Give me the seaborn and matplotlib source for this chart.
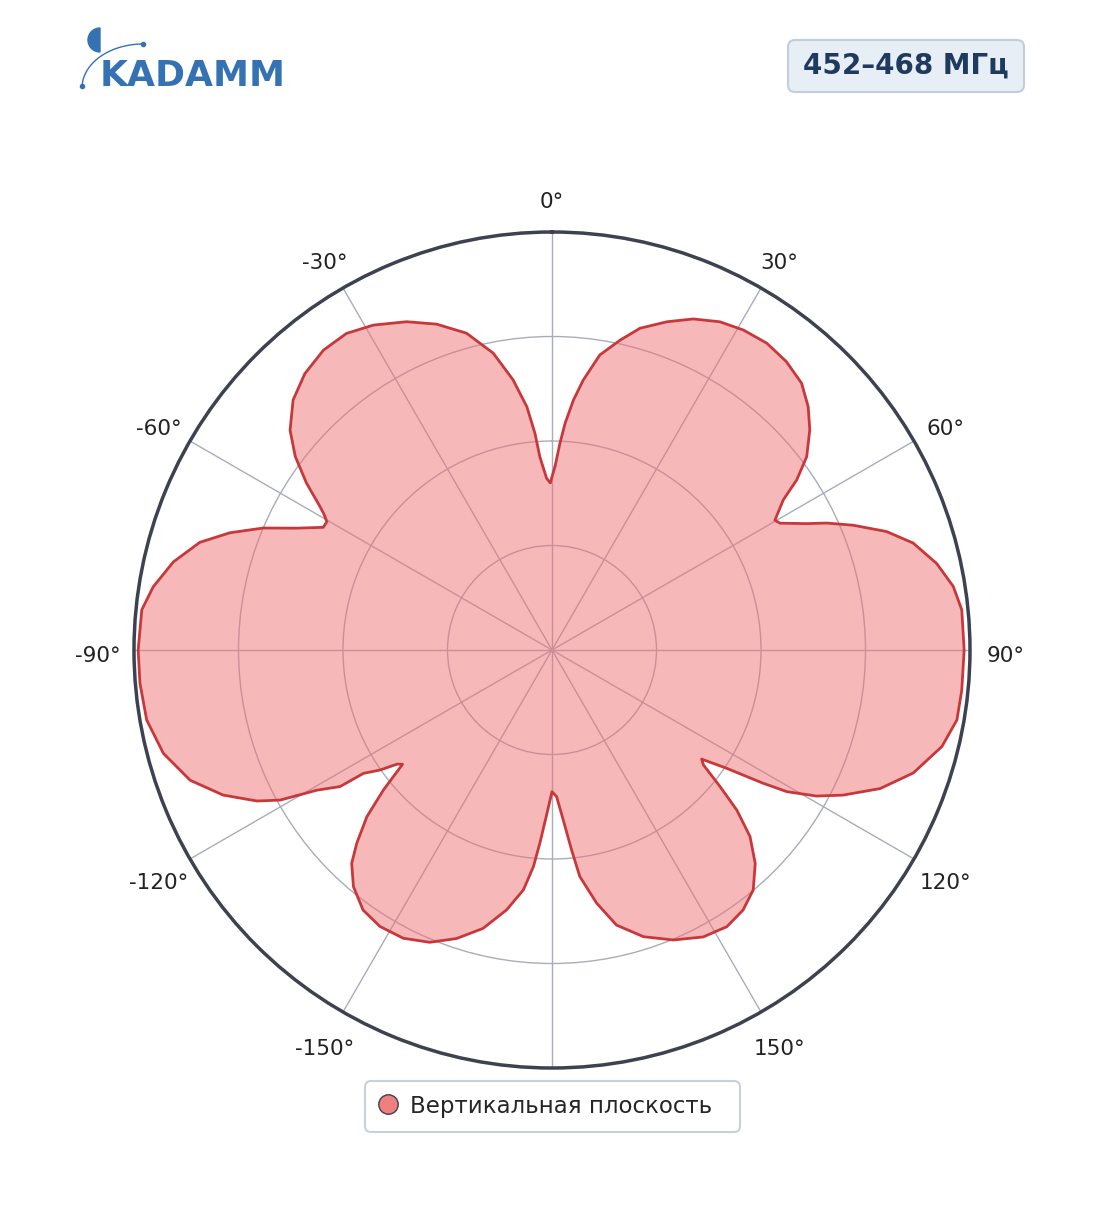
import numpy as np
import pandas as pd
import matplotlib
matplotlib.use("Agg")
import matplotlib.pyplot as plt
import seaborn as sns
from matplotlib.patches import Wedge, FancyBboxPatch
from matplotlib.lines import Line2D

# vertical-plane pattern, linear level
right_deg = [0.94, 2.2, 3.3, 4.9, 6.6, 9.2, 12.4, 15.3, 19.3, 23.1, 27.1, 30.9, 35.0,
             39.1, 43.1, 46.5, 49.5, 52.8, 55.2, 57.0, 59.8, 60.9, 63.6, 65.2, 67.5,
             70.5, 73.5, 77.3, 81.0, 84.4, 90.0, 95.6, 99.8, 103.9, 108.8, 112.9,
             116.5, 118.9, 121.1, 122.3, 124.1, 126.1, 127.2, 129.1, 130.9, 133.3,
             136.4, 140.0, 143.7, 147.7, 152.2, 157.3, 162.3, 166.8, 170.0, 173.0,
             174.4, 176.2, 178.2, 180.0]
right_lvl = [0.439, 0.495, 0.543, 0.600, 0.650, 0.715, 0.759, 0.798, 0.832, 0.861,
             0.882, 0.892, 0.896, 0.889, 0.874, 0.845, 0.811, 0.765, 0.713, 0.660,
             0.617, 0.624, 0.680, 0.724, 0.780, 0.849, 0.901, 0.943, 0.972, 0.985,
             0.986, 0.985, 0.983, 0.961, 0.913, 0.852, 0.778, 0.723, 0.656, 0.595,
             0.505, 0.443, 0.455, 0.518, 0.585, 0.651, 0.705, 0.749, 0.772, 0.783,
             0.776, 0.752, 0.720, 0.676, 0.615, 0.546, 0.481, 0.408, 0.351, 0.339]
left_deg = [-178.0, -176.4, -175.1, -173.2, -170.1, -166.1, -161.7, -157.3, -152.7,
            -148.1, -144.0, -140.0, -136.8, -134.7, -132.0, -129.7, -127.4, -126.4,
            -124.9, -123.2, -122.8, -120.8, -118.9, -117.1, -113.8, -109.8, -104.9,
            -99.8, -94.6, -90.0, -84.4, -81.0, -76.9, -73.0, -70.0, -67.1, -64.5,
            -61.8, -60.3, -59.1, -58.3, -55.8, -53.0, -50.0, -46.0, -41.8, -37.3,
            -33.0, -28.8, -23.9, -19.5, -15.1, -11.2, -8.2, -5.9, -4.5, -3.6, -1.8,
            -0.6]
left_lvl = [0.399, 0.463, 0.520, 0.578, 0.631, 0.686, 0.727, 0.758, 0.776, 0.779,
            0.769, 0.739, 0.700, 0.657, 0.596, 0.524, 0.450, 0.460, 0.502, 0.539,
            0.603, 0.655, 0.743, 0.793, 0.860, 0.920, 0.962, 0.984, 0.989, 0.990,
            0.986, 0.966, 0.930, 0.881, 0.820, 0.750, 0.677, 0.621, 0.620, 0.637,
            0.652, 0.710, 0.769, 0.818, 0.861, 0.887, 0.902, 0.903, 0.887, 0.859,
            0.827, 0.785, 0.724, 0.653, 0.585, 0.520, 0.463, 0.411, 0.400]

tick_deg = [0, 30, 60, 90, 120, 150, 180, 210, 240, 270, 300, 330]
tick_lbl = ["0°", "30°", "60°", "90°", "120°", "150°", "",
            "-150°", "-120°", "-90°", "-60°", "-30°"]
ring_lvl = [0.25, 0.5, 0.75]

band = "452–468 МГц"
series_name = "Вертикальная плоскость"

sns.set_style("white")
plt.rcParams["font.family"] = ["DejaVu Sans"]

df = pd.DataFrame({
    "theta": np.deg2rad(np.array(right_deg + left_deg)),
    "r": right_lvl + left_lvl,
})

W, H = 1104, 1211
fig = plt.figure(figsize=(W / 100, H / 100), dpi=100)

cx, cy, R = 552, 650, 418
ax = fig.add_axes([(cx - R) / W, 1 - (cy + R) / H, 2 * R / W, 2 * R / H],
                  projection="polar")
ax.set_theta_zero_location("N")
ax.set_theta_direction(-1)
ax.set_ylim(0, 1.0)
ax.set_rticks(ring_lvl + [1.0])
ax.set_yticklabels([])
ax.set_thetagrids(tick_deg, [""] * len(tick_deg))
ax.grid(True, color="#a9adbb", lw=1.0)
ax.spines["polar"].set_color("#3d4150")
ax.spines["polar"].set_linewidth(2.5)
ax.set_axisbelow(True)

ax.fill(df["theta"], df["r"], color="#f07275", alpha=0.5, lw=0, zorder=3)
sns.lineplot(data=df, x="theta", y="r", sort=False, ax=ax, color="#c8383b",
             lw=2.0, zorder=4, estimator=None, solid_joinstyle="round")
# close the outline
ax.plot(df["theta"].iloc[[-1, 0]], df["r"].iloc[[-1, 0]], color="#c8383b",
        lw=2.0, zorder=4, solid_capstyle="round")
ax.set_xlabel("")
ax.set_ylabel("")

# overlay in pixel coordinates for labels, logo and badge
ov = fig.add_axes([0, 0, 1, 1], zorder=10)
ov.set_xlim(0, W)
ov.set_ylim(H, 0)
ov.axis("off")
ov.patch.set_alpha(0)

for deg, lbl in zip(tick_deg, tick_lbl):
    a = np.deg2rad(deg)
    ov.text(cx + 454 * np.sin(a), cy - 454 * np.cos(a) + 6, lbl, fontsize=15.5,
            color="#222222", ha="center", va="center")

blue = "#3572b4"
ov.add_patch(Wedge((100, 40), 12, 90, 270, color=blue))
t = np.deg2rad(np.linspace(180, 270, 40))
ov.plot(143 + 61 * np.cos(t), 88 + 44 * np.sin(t), color=blue, lw=1.0)
ov.plot([82, 143], [86, 44], "o", color=blue, ms=3)
ov.text(100, 86, "KADAMM", fontsize=26, fontweight="heavy", color=blue,
        ha="left", va="baseline")

ov.add_patch(FancyBboxPatch((788, 40), 236, 52, boxstyle="round,pad=0,rounding_size=7",
                            fc="#e8eef6", ec="#c3cedd", lw=1.5))
ov.text(906, 66, band, fontsize=20, fontweight="bold", color="#1f3a5f",
        ha="center", va="center")

# legend
ov.add_patch(FancyBboxPatch((365, 1081), 375, 51, boxstyle="round,pad=0,rounding_size=6",
                            fc="white", ec="#c9d0dc", lw=1.5))
handle = Line2D([], [], marker="o", ls="", ms=14, mfc="#f08080", mec="#3d4150", mew=1)
leg = fig.legend([handle], [series_name], loc="center left",
                 bbox_to_anchor=(374 / W, 1 - 1106 / H), fontsize=16.5, frameon=False,
                 borderpad=0, borderaxespad=0, handletextpad=0.36, handlelength=1.2)
leg.set_zorder(12)

fig.savefig("out.png", dpi=100)
plt.close(fig)
